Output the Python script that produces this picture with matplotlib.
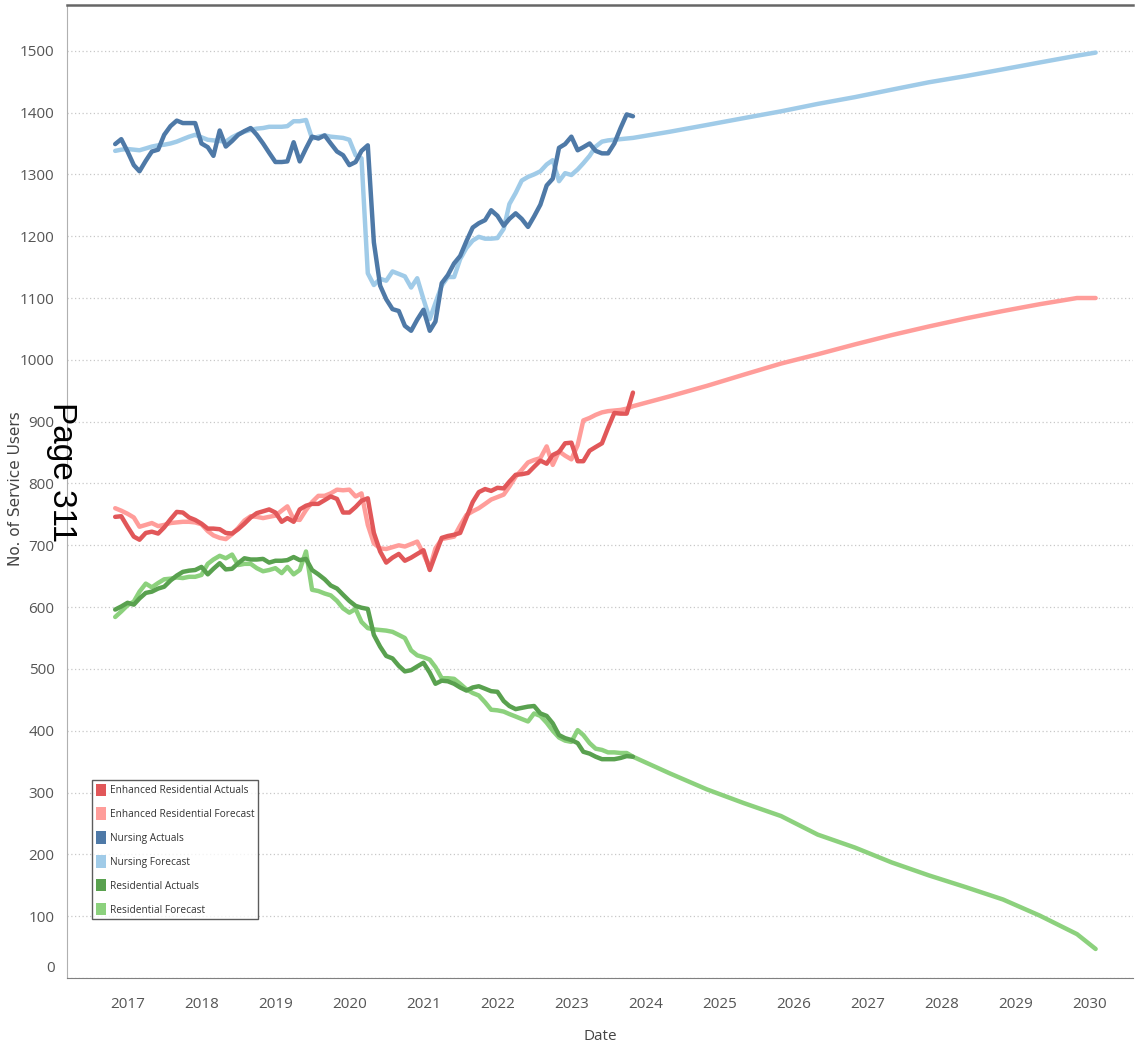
import matplotlib
matplotlib.use("Agg")
import matplotlib.pyplot as plt
import matplotlib.dates as mdates
import matplotlib.transforms as mtransforms
from matplotlib.patches import Patch
import pandas as pd

# monthly history, Nov 2016 .. Nov 2023
hist_dates = pd.date_range("2016-11-01", periods=85, freq="MS")
# forecast continuation points
future_dates = pd.to_datetime([
    "2024-05-01", "2024-11-01", "2025-05-01", "2025-11-01", "2026-05-01",
    "2026-11-01", "2027-05-01", "2027-11-01", "2028-05-01", "2028-11-01",
    "2029-05-01", "2029-11-01", "2030-02-01",
])

nursing_actuals = [
    1349, 1357, 1337, 1315, 1305, 1322, 1337, 1340, 1364, 1378, 1387, 1383,
    1383, 1383, 1350, 1344, 1330, 1371, 1345, 1354, 1364, 1370, 1375, 1364,
    1350, 1335, 1320, 1320, 1321, 1352, 1321, 1342, 1361, 1358, 1363, 1350,
    1337, 1331, 1315, 1320, 1338, 1347, 1190, 1120, 1098, 1082, 1079, 1055,
    1047, 1065, 1081, 1047, 1062, 1124, 1137, 1156, 1168, 1192, 1214, 1221,
    1226, 1242, 1233, 1217, 1228, 1237, 1228, 1215, 1232, 1251, 1282, 1293,
    1343, 1349, 1361, 1339, 1344, 1350, 1338, 1334, 1334, 1350, 1375, 1397,
    1394,
]
nursing_forecast = [
    1338, 1340, 1341, 1340, 1339, 1342, 1345, 1347, 1348, 1350, 1353, 1357,
    1361, 1364, 1360, 1356, 1355, 1354, 1353, 1360, 1365, 1369, 1372, 1374,
    1375, 1377, 1377, 1377, 1378, 1386, 1386, 1388, 1358, 1361, 1363, 1361,
    1360, 1359, 1356, 1331, 1326, 1140, 1121, 1131, 1128, 1143, 1139, 1135,
    1117, 1132, 1098, 1066, 1092, 1120, 1134, 1134, 1163, 1181, 1193, 1199,
    1196, 1196, 1197, 1212, 1252, 1270, 1290, 1296, 1300, 1305, 1316, 1323,
    1289, 1302, 1299, 1308, 1318, 1330, 1345, 1353, 1355, 1356, 1357, 1358,
    1359,
]
nursing_forecast_future = [1369, 1380, 1391, 1402, 1414, 1425, 1437, 1449,
                           1459, 1470, 1481, 1492, 1497]

enhanced_actuals = [
    746, 747, 730, 714, 709, 720, 722, 719, 729, 742, 754, 753,
    745, 741, 735, 727, 727, 726, 720, 719, 726, 735, 745, 752,
    755, 758, 753, 738, 744, 738, 758, 764, 767, 767, 773, 779,
    775, 753, 753, 762, 772, 776, 720, 690, 672, 680, 686, 675,
    680, 686, 692, 660, 685, 712, 715, 717, 720, 745, 770, 786,
    791, 788, 793, 792, 803, 814, 815, 817, 827, 837, 832, 846,
    851, 865, 866, 836, 836, 853, 859, 865, 890, 914, 913, 913,
    947,
]
enhanced_forecast = [
    760, 756, 751, 745, 730, 733, 736, 731, 733, 736, 737, 738,
    738, 737, 734, 723, 716, 712, 710, 718, 728, 740, 747, 746,
    744, 746, 748, 756, 763, 742, 741, 757, 770, 780, 780, 784,
    790, 789, 790, 779, 784, 733, 703, 695, 694, 697, 700, 698,
    702, 706, 686, 663, 695, 710, 712, 714, 732, 749, 755, 760,
    767, 774, 778, 782, 795, 811, 822, 834, 838, 841, 860, 830,
    852, 845, 839, 862, 902, 906, 911, 915, 917, 918, 919, 921,
    925,
]
enhanced_forecast_future = [941, 958, 976, 994, 1009, 1025, 1040, 1054,
                            1067, 1079, 1090, 1100, 1100]

residential_actuals = [
    596, 601, 607, 604, 614, 623, 625, 630, 633, 643, 651, 657,
    659, 660, 665, 653, 662, 671, 661, 662, 671, 679, 677, 677,
    678, 672, 675, 675, 676, 681, 676, 678, 660, 653, 645, 635,
    630, 620, 610, 602, 599, 597, 555, 536, 521, 517, 505, 496,
    498, 504, 510, 494, 476, 481, 480, 476, 470, 465, 470, 472,
    468, 464, 463, 448, 440, 435, 437, 439, 440, 428, 424, 412,
    393, 388, 385, 380, 366, 363, 358, 354, 354, 354, 356, 359,
    358,
]
residential_forecast = [
    584, 593, 603, 609, 625, 638, 632, 639, 645, 646, 648, 647,
    649, 649, 652, 670, 677, 683, 679, 685, 668, 670, 670, 663,
    658, 660, 663, 655, 665, 653, 660, 690, 628, 626, 622, 619,
    610, 598, 591, 597, 576, 566, 564, 563, 562, 560, 555, 550,
    530, 522, 519, 515, 503, 485, 485, 484, 476, 467, 461, 457,
    446, 434, 433, 431, 427, 423, 419, 415, 428, 424, 413, 400,
    389, 384, 382, 401, 393, 380, 371, 369, 365, 365, 364, 364,
    358,
]
residential_forecast_future = [331, 305, 283, 262, 232, 211, 187, 166,
                               147, 127, 101, 71, 47]

labels = [
    "Enhanced Residential Actuals", "Enhanced Residential Forecast",
    "Nursing Actuals", "Nursing Forecast",
    "Residential Actuals", "Residential Forecast",
]
colors = ["#e15759", "#ff9d9a", "#4e79a7", "#a0cbe8", "#59a14f", "#8cd17d"]

forecast_dates = list(hist_dates) + list(future_dates)

fig = plt.figure(figsize=(11.37, 10.42), dpi=100)
ax = fig.add_axes([0.0589, 0.0614, 0.9375, 0.9338])

# forecasts drawn first, actuals on top
ax.plot(forecast_dates, nursing_forecast + nursing_forecast_future,
        color=colors[3], lw=3.2, solid_capstyle="round", zorder=2)
ax.plot(forecast_dates, enhanced_forecast + enhanced_forecast_future,
        color=colors[1], lw=3.2, solid_capstyle="round", zorder=2)
ax.plot(forecast_dates, residential_forecast + residential_forecast_future,
        color=colors[5], lw=3.2, solid_capstyle="round", zorder=2)
ax.plot(hist_dates, nursing_actuals, color=colors[2], lw=3.2,
        solid_capstyle="round", zorder=3)
ax.plot(hist_dates, enhanced_actuals, color=colors[0], lw=3.2,
        solid_capstyle="round", zorder=3)
ax.plot(hist_dates, residential_actuals, color=colors[4], lw=3.2,
        solid_capstyle="round", zorder=3)

ax.set_xlim(pd.Timestamp("2016-03-08"), pd.Timestamp("2030-08-04"))
ax.set_ylim(0, 1574)
ax.set_yticks(range(0, 1501, 100))
ax.xaxis.set_major_locator(mdates.YearLocator())
ax.xaxis.set_major_formatter(mdates.DateFormatter("%Y"))

ax.grid(axis="y", color="#c8c8c8", linestyle=(0, (1, 2)), lw=0.9)
ax.set_axisbelow(True)
ax.tick_params(length=0, labelsize=11, labelcolor="#555555")
ax.tick_params(axis="y", pad=9)
ax.tick_params(axis="x", pad=14)
for lab in ax.get_xticklabels() + ax.get_yticklabels():
    lab.set_fontfamily("Open Sans")

# lift the "0" label like the original
zero_shift = mtransforms.ScaledTranslation(0, 12 / 100, fig.dpi_scale_trans)
ax.get_yticklabels()[0].set_transform(ax.get_yticklabels()[0].get_transform() + zero_shift)

ax.spines["right"].set_visible(False)
ax.spines["top"].set_color("#666666")
ax.spines["top"].set_linewidth(1.8)
ax.spines["left"].set_color("#b0b0b0")
ax.spines["bottom"].set_color("#808080")

ax.set_xlabel("Date", fontsize=11, color="#444444", family="Open Sans", labelpad=12)
fig.text(0.014, 0.531, "No. of Service Users", rotation=90, ha="center",
         va="center", fontsize=11, color="#444444", family="DejaVu Sans")

handles = [Patch(facecolor=c, edgecolor="none") for c in colors]
leg = ax.legend(handles, labels, loc="lower left", bbox_to_anchor=(0.0235, 0.0606),
                frameon=True, fancybox=False, handlelength=1.0,
                handleheight=1.5, handletextpad=0.45, labelspacing=1.12,
                borderpad=0.35, borderaxespad=0,
                prop={"family": "Open Sans", "size": 7.3})
leg.get_frame().set_edgecolor("#333333")
leg.get_frame().set_linewidth(1.0)
for t in leg.get_texts():
    t.set_color("#333333")

fig.text(0.0545, 0.547, "Page 311", rotation=270, ha="center", va="center",
         fontsize=24, color="black", family="Liberation Sans")

fig.savefig("out.png", dpi=100)
